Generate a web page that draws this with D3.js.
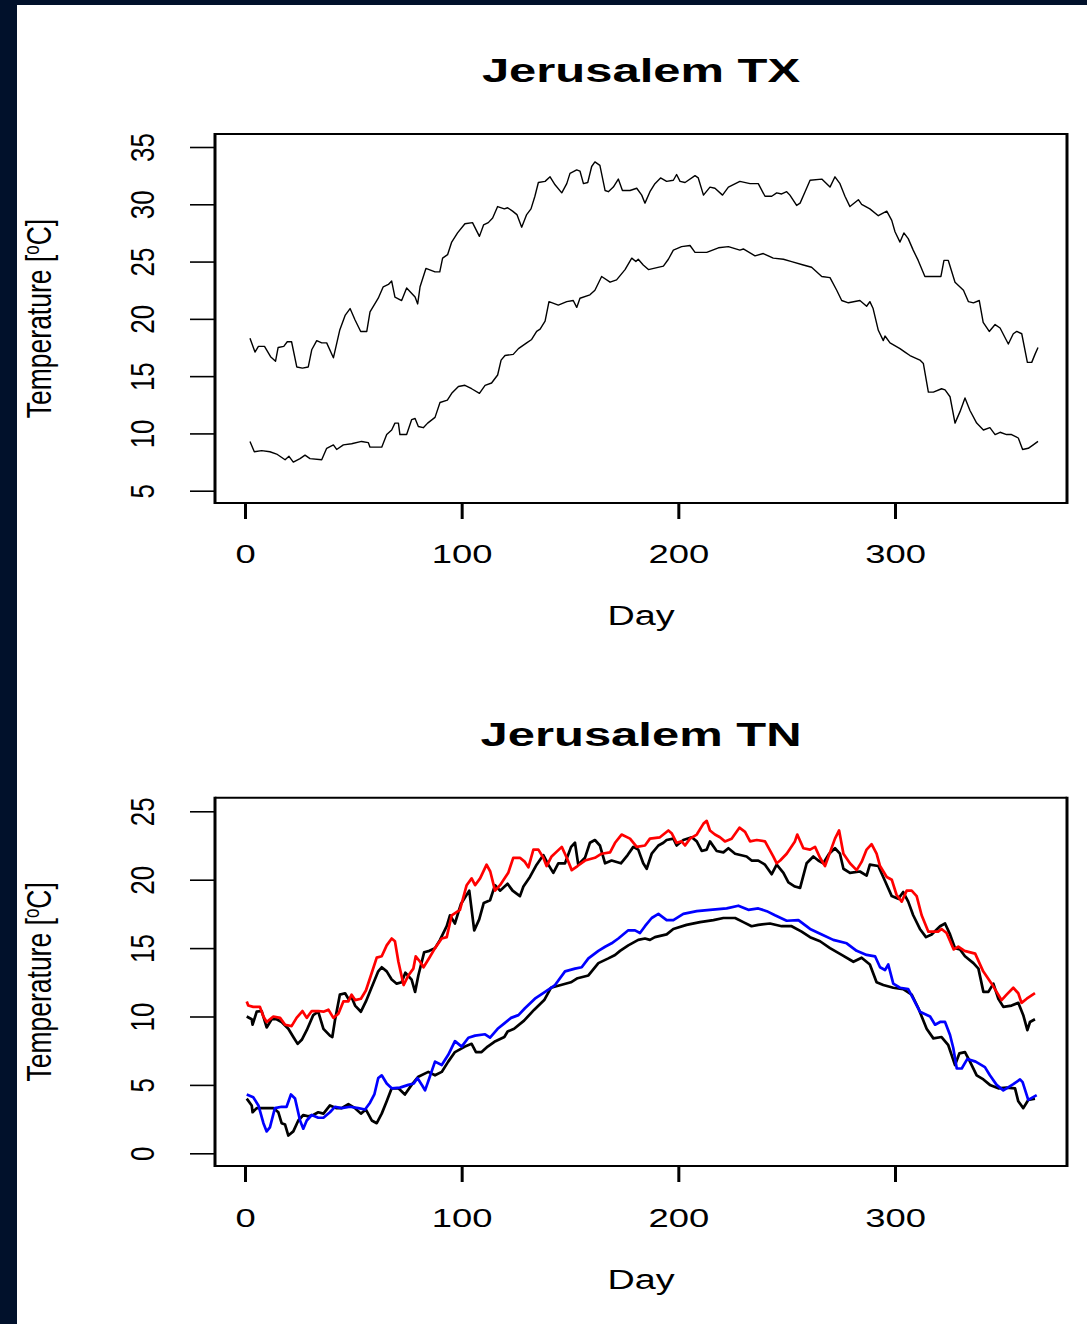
<!DOCTYPE html>
<html>
<head>
<meta charset="utf-8">
<script src="https://cdn.jsdelivr.net/npm/d3@7"></script>
<style>
  html, body { margin: 0; padding: 0; background: #ffffff; }
  svg { display: block; }
</style>
</head>
<body>
<svg id="chart" width="1087" height="1324"></svg>
<script>
// ---- axis ticks ----
const dayTicks = [0, 100, 200, 300];
const txTicks = [5, 10, 15, 20, 25, 30, 35];
const tnTicks = [0, 5, 10, 15, 20, 25];

// ---- Jerusalem TX: two daily curves, [day, °C] ----
const txHigh = [
  [2.3,18.3],[4.6,17.1],[6.2,17.6],[9,17.6],[11.8,16.7],[14.1,16.3],[15.3,17.5],[17.9,17.6],[19.5,18.0],[21.5,18.0],
  [23.9,15.8],[26.5,15.7],[29.2,15.8],[30.8,17.3],[33.1,18.1],[35.4,17.9],[37.7,17.9],[40.8,16.6],[43.7,19.0],[46.2,20.3],
  [48.5,20.9],[50.8,19.9],[53.4,18.9],[56.2,18.9],[57.7,20.6],[61.5,21.8],[63.8,22.8],[66.2,23.0],[67.7,23.3],[69.2,21.9],
  [72.3,21.6],[74.6,22.7],[78.5,21.9],[79.7,21.3],[80.8,22.8],[83.5,24.4],[87.7,24.1],[89.9,24.1],[91.2,25.3],[93.5,25.6],
  [95.4,26.7],[98.1,27.5],[101.5,28.3],[105,28.4],[108.2,27.2],[110.1,28.2],[112.3,28.4],[114.3,28.8],[116.6,29.8],[119.7,29.6],
  [121.2,29.7],[123.5,29.4],[125.5,29.1],[127.7,28.0],[130,29.1],[132,29.6],[133.8,30.7],[135.4,31.9],[138.5,32.0],[140.8,32.4],
  [143.1,31.7],[146.2,31.0],[148.5,31.8],[150,32.7],[153.1,33.0],[154.6,32.9],[156.2,31.8],[158.2,31.9],[160,33.3],[161.5,33.7],
  [163.8,33.4],[166.2,31.2],[167.7,31.1],[170,31.5],[172.3,32.2],[174.2,31.2],[177.7,31.2],[180.8,31.4],[183.1,30.8],[184.6,30.1],
  [186.9,31.1],[189.2,31.8],[191.8,32.3],[194.6,32.0],[197.7,32.1],[199.2,32.6],[200.8,32.0],[203.1,31.9],[207.7,32.5],[209.2,32.3],
  [211.6,30.8],[214.6,31.5],[216.9,31.4],[220.4,30.8],[223.1,31.5],[228.4,32.0],[233.1,31.8],[236.9,31.8],[240,30.7],[243.1,30.7],
  [245.4,31.0],[247.7,30.9],[250,31.1],[251.5,30.8],[254.6,29.9],[256.2,30.1],[258.5,31.1],[260.8,32.1],[266.2,32.2],[270,31.5],
  [272.3,32.4],[274.6,31.8],[276.9,30.7],[279.2,29.8],[283.1,30.4],[284.6,30.0],[288.4,29.6],[292.3,29.0],[296.2,29.4],[298.5,28.6],
  [300,27.6],[302.3,26.7],[304.1,27.5],[306.1,27.0],[308.4,26.0],[310.7,25.1],[313.8,23.7],[317.7,23.7],[321.2,23.7],[322.6,25.1],
  [324.6,25.1],[327.7,23.2],[331.6,22.5],[333.9,21.5],[336.2,21.4],[338.9,21.6],[340.7,19.7],[343.5,18.9],[346.2,19.5],[348.5,19.2],
  [352.3,17.8],[354.6,18.7],[356.2,18.9],[358.5,18.7],[361.1,16.2],[363.1,16.2],[364.6,16.9],[366,17.5]
];
const txLow = [
  [2.3,9.3],[4.3,8.4],[7.7,8.5],[11.5,8.4],[14.6,8.2],[18.5,7.7],[20.3,8.0],[22.3,7.5],[25.4,7.8],[27.7,8.1],
  [30,7.8],[35.4,7.7],[37.7,8.7],[40.8,9.0],[42.3,8.6],[45.4,9.0],[49.2,9.1],[53.8,9.3],[56.9,9.2],[57.7,8.8],
  [63.1,8.8],[65.4,9.9],[67.7,10.3],[69.2,10.9],[70.8,10.9],[71.5,9.9],[74.6,9.9],[76.9,11.2],[78.5,11.3],[80,10.6],
  [82.3,10.5],[84.3,10.9],[87.7,11.4],[90,12.7],[93.4,12.9],[95.4,13.5],[98.5,14.1],[101.5,14.2],[104.6,13.9],[108.2,13.5],
  [110.8,14.2],[113.8,14.4],[116.6,15.1],[118.2,16.4],[120,16.8],[123.8,16.9],[126.2,17.4],[130,17.9],[132.3,18.2],[134.6,18.9],
  [136.2,19.1],[138.5,19.8],[140.3,21.5],[144.6,21.2],[148.5,21.5],[151.5,21.6],[153.1,21.0],[154.6,21.8],[159.2,22.1],[161.5,22.5],
  [164.6,23.7],[168.5,23.2],[171.5,23.4],[175.4,24.3],[178.5,25.3],[180.4,25.0],[181.5,25.2],[183.8,24.7],[186.2,24.3],[193.1,24.6],
  [195.4,25.2],[197.7,26.0],[201.5,26.3],[205.4,26.4],[207.7,25.8],[213.1,25.8],[218.5,26.2],[223.1,26.3],[228.4,26.0],[230,26.1],
  [235.4,25.5],[239.2,25.7],[243.8,25.3],[248.5,25.2],[252.3,25.0],[257.7,24.7],[261.5,24.5],[266.2,23.7],[270,23.6],[273.1,22.5],
  [275.4,21.6],[278.5,21.4],[283.8,21.6],[286.9,21.1],[288.4,21.5],[289.9,20.9],[292.3,19.0],[294.6,18.1],[295.4,18.5],[297.7,17.9],
  [302.3,17.4],[304.6,17.1],[306.9,16.8],[311.5,16.4],[313.1,16.1],[315.4,13.6],[317.7,13.6],[321.5,13.9],[323.1,13.8],[325.4,13.2],
  [327.7,10.9],[330,11.9],[332.3,13.1],[334.6,12.0],[337.7,10.9],[340.8,10.3],[343.8,10.5],[346.2,9.9],[348.5,10.1],[351.5,9.9],
  [353.8,9.9],[356.9,9.6],[358.9,8.6],[361.5,8.7],[363.8,9.0],[366,9.3]
];

// ---- Jerusalem TN: observed (black) and modelled (red / blue), [day, °C] ----
const tnHighObs = [
  [0.8,10.0],[3.1,9.8],[3.5,9.4],[5.4,10.35],[7.7,10.4],[10,9.2],[12.3,9.8],[14.6,9.8],[16.9,9.6],[20,9.1],
  [22.3,8.5],[24.3,8.0],[26.2,8.3],[28.5,9.0],[31.5,10.1],[33.8,10.35],[36.2,9.1],[39.2,8.6],[40.3,8.5],[41.5,9.7],
  [43.8,11.6],[46.2,11.7],[47.7,11.3],[49.2,11.4],[50.8,10.8],[53.5,10.35],[55.8,11.1],[58.1,12.0],[61.5,13.3],[63.1,13.6],
  [65.4,13.3],[67.7,12.7],[70.0,12.4],[72.3,12.5],[74.0,13.2],[76.9,12.7],[78.5,11.8],[80,13.0],[82.7,14.7],[85.1,14.8],
  [87.7,15.0],[90,15.6],[93.1,16.6],[94.6,17.4],[96.9,16.8],[99.6,18.2],[103.5,19.2],[105.8,16.3],[108.1,17.1],[110.2,18.3],
  [113.1,18.5],[115.4,19.6],[117.7,19.2],[121.2,19.7],[123.5,19.2],[126.9,18.8],[128.5,19.5],[131.5,20.2],[134.6,21.1],[137.7,21.8],
  [140,21.1],[142.3,20.5],[144.6,21.2],[147.7,21.2],[150.5,22.4],[152.3,22.7],[153.8,21.1],[156.9,21.6],[159.2,22.7],[161.5,22.9],
  [163.8,22.5],[166.2,21.2],[169.2,21.4],[173.5,21.2],[176.6,21.8],[179.2,22.4],[181.5,22.2],[183.8,21.2],[185.4,20.8],[187.7,21.9],
  [190.8,22.5],[193.1,22.7],[194.6,22.9],[197.7,23.0],[199.2,22.5],[202.3,22.9],[206.2,23.1],[208.5,22.8],[210.8,22.1],[213.1,22.2],
  [214.6,22.8],[217.7,22.1],[220.8,22.0],[223.1,22.3],[226.2,21.9],[231.5,21.7],[233.8,21.4],[236.9,21.4],[240,21.1],[243.1,20.4],
  [245.4,21.1],[248.5,20.5],[250.8,19.8],[253.8,19.5],[256.2,19.4],[259.2,21.2],[262.3,21.7],[264.6,21.4],[266.9,21.2],[269.6,21.9],
  [272.3,22.3],[274.6,21.9],[276.2,20.8],[279.2,20.5],[283.8,20.6],[286.9,20.3],[288.4,21.1],[292.3,21.0],[295.4,19.9],[298.5,18.8],
  [301.5,18.6],[303.8,19.1],[306.1,18.4],[308.4,17.4],[311.5,16.4],[314.3,15.8],[316.9,16.0],[320.8,16.6],[323.1,16.8],[325.4,16.0],
  [327.7,15.0],[330,14.9],[332.3,14.4],[336.2,13.9],[338.5,13.5],[340.8,11.8],[343.1,11.8],[345.4,12.4],[347.7,11.3],[350,10.7],
  [353.8,10.8],[356.9,11.0],[359.2,10.1],[361.1,9.0],[362.3,9.6],[364.6,9.8]
];
const tnHighModel = [
  [0.8,11.1],[1.5,10.8],[3.8,10.7],[6.9,10.7],[8.5,10.0],[10,9.6],[13.1,10.0],[16.2,9.9],[18.5,9.4],[21.5,9.3],
  [23.8,9.9],[26.5,10.4],[28.5,9.9],[30.8,10.4],[33.8,10.4],[36.2,10.35],[38.5,10.5],[40.8,9.9],[43.1,10.2],[45.4,11.1],
  [47.7,11.1],[49.2,11.6],[50.8,11.2],[53.5,11.3],[55.8,11.9],[58.1,13.0],[60.8,14.3],[63.1,14.4],[65.4,15.2],[67.7,15.7],
  [69.2,15.5],[70.8,14.0],[73.2,12.3],[75.4,13.0],[77.7,13.5],[78.8,14.4],[80.8,14.0],[82.4,13.6],[85.1,14.3],[87.7,15.0],
  [90.8,15.7],[93.1,15.8],[95.4,17.4],[99.2,17.8],[102.3,19.6],[104.6,20.1],[106.2,19.6],[108.5,20.1],[111.5,21.1],[113.2,20.6],
  [115.4,19.2],[117.7,19.6],[121.5,20.5],[123.8,21.6],[126.9,21.6],[129.2,21.3],[130.8,20.9],[133.1,22.2],[135.4,22.2],[137.7,21.6],
  [139.2,21.0],[141.5,21.7],[146.2,22.4],[148.5,21.6],[150.8,20.7],[153.5,21.0],[156.9,21.4],[161.5,21.6],[164.6,21.9],[168.5,22.0],
  [170.8,22.7],[173.8,23.3],[177.7,23.0],[180.8,22.4],[184.6,22.5],[186.9,23.0],[191.5,23.1],[195.4,23.6],[196.9,23.4],[199.2,22.7],
  [201.5,22.8],[203.1,22.5],[205.4,23.0],[208.5,23.3],[211.6,24.1],[213.1,24.3],[214.6,23.6],[216.9,23.3],[219.2,23.1],[221.5,22.8],
  [224.6,23.0],[228.2,23.8],[230.8,23.5],[233.1,22.8],[236.2,22.9],[240,22.8],[243.8,21.7],[245.4,21.2],[247,21.4],[250,21.9],
  [253.8,22.8],[254.9,23.3],[257.7,22.3],[260.8,22.2],[263.1,22.4],[265.4,21.6],[267.7,21.0],[270,22.0],[272.3,23.0],[274.2,23.6],
  [276.2,21.9],[279.2,21.2],[282.3,20.7],[284.6,21.3],[286.9,22.2],[289.2,22.6],[291.5,21.9],[293.1,21.0],[296.2,20.2],[298.5,20.0],
  [300.7,18.9],[303.1,18.4],[305.4,19.2],[307.7,19.2],[310,18.8],[312.3,17.4],[315.4,16.2],[319.9,16.2],[321.5,16.4],[323.8,16.1],
  [327.1,14.9],[329.2,15.1],[332.1,14.8],[337.0,14.6],[340.7,13.3],[344.6,12.4],[346.9,11.8],[349.2,11.2],[351.5,11.6],[354.6,12.1],
  [356.9,11.7],[358.4,11.0],[360.8,11.3],[364.6,11.7]
];
const tnLowObs = [
  [0.8,4.0],[3.1,3.5],[3.5,3.0],[5.4,3.3],[8.5,3.3],[13.1,3.3],[15.4,3.0],[16.9,2.2],[18.5,2.1],[20,1.3],
  [22.3,1.6],[24.6,2.4],[26.9,2.8],[29.2,2.7],[31.5,2.8],[33.8,3.0],[36.2,2.9],[39.2,3.5],[42.3,3.3],[44.6,3.3],
  [47.7,3.6],[50.8,3.3],[53.5,2.9],[55.8,3.2],[58.5,2.4],[60.8,2.2],[63.1,2.9],[65.4,3.8],[67.7,4.75],[70.8,4.75],
  [73.8,4.3],[76.9,5.0],[80,5.6],[84.6,5.95],[87.7,5.7],[90.8,5.95],[93.8,6.7],[96.9,7.4],[101.5,7.8],[104.6,8.0],
  [106.6,7.4],[109.2,7.4],[112.0,7.8],[115.1,8.15],[119.7,8.5],[121.2,8.9],[124.2,9.1],[128.8,9.7],[133.5,10.5],[138.1,11.2],
  [141.2,12.1],[145.8,12.3],[150.4,12.5],[153.5,12.8],[158.5,13.0],[163.1,13.9],[167.7,14.25],[170.8,14.5],[173.1,14.8],[176.9,15.2],
  [181.5,15.6],[184.6,15.7],[186.9,15.6],[189.2,15.8],[194.6,16.0],[197.7,16.4],[203.8,16.7],[210,16.9],[216.2,17.05],[220.8,17.2],
  [226.2,17.2],[230,16.9],[233.8,16.6],[236.9,16.7],[242.3,16.8],[247.7,16.6],[252.3,16.6],[256.9,16.2],[260.8,15.8],[265.4,15.5],
  [270,15.0],[275.4,14.5],[280.8,14.0],[284.6,14.3],[288.4,13.8],[291.5,12.5],[294.6,12.3],[299.2,12.1],[303.8,12.0],[307.7,11.6],
  [310.8,10.6],[314.6,9.1],[317.7,8.4],[321.5,8.5],[324.6,7.9],[327.7,6.45],[329.7,7.3],[332.3,7.4],[334.6,6.7],[337.7,5.7],
  [340.8,5.4],[343.8,5.0],[347.7,4.75],[351.5,4.8],[355.4,4.75],[356.9,3.8],[359.2,3.3],[361.5,3.9],[364.6,4.0]
];
const tnLowModel = [
  [0.8,4.3],[3.8,4.1],[6.2,3.5],[8.5,2.2],[10,1.6],[11.5,1.9],[13.8,3.3],[16.9,3.4],[19.2,3.4],[21.2,4.3],
  [23.1,4.0],[25.4,2.4],[26.9,1.8],[28.5,2.4],[30.8,2.8],[33.8,2.6],[36.2,2.6],[39.2,3.0],[41.5,3.4],[44.6,3.3],
  [48.5,3.4],[52.3,3.3],[55.4,3.2],[57.7,3.7],[59.7,4.3],[61.5,5.5],[63.1,5.7],[65.4,5.1],[67.7,4.75],[71.5,4.8],
  [75.4,5.0],[77.9,5.1],[79.6,5.5],[82.0,4.9],[83.1,4.6],[85.1,5.5],[87.7,6.7],[90.8,6.45],[93.8,7.2],[96.9,8.2],
  [100,7.8],[103.1,8.45],[106.2,8.6],[110.8,8.7],[113.1,8.45],[116.6,9.1],[119.7,9.5],[122.8,9.9],[126.2,10.1],[129.2,10.6],
  [133.8,11.3],[138.5,11.8],[143.1,12.3],[147.7,13.3],[152.3,13.5],[155.4,13.6],[158.5,14.25],[163.1,14.8],[166.2,15.1],[169.2,15.35],
  [172.3,15.7],[176.9,16.3],[180,16.3],[182.3,16.1],[184.6,16.6],[187.7,17.2],[190.8,17.5],[194.6,17.05],[197.7,17.05],[202.3,17.5],
  [208.5,17.7],[214.6,17.8],[222.3,17.9],[227.7,18.1],[232.3,17.8],[236.9,17.9],[240.8,17.7],[244.6,17.4],[250,17.0],[255.4,17.05],
  [260.8,16.4],[266.2,16.0],[271.5,15.6],[277.7,15.35],[282.3,14.8],[286.9,14.5],[290.8,14.4],[293.1,13.6],[295.4,13.4],[296.9,13.8],
  [299.2,12.4],[302.3,12.1],[306.1,12.0],[308.4,11.3],[311.5,10.35],[316.2,10.0],[318.5,9.4],[320.8,9.6],[323.1,9.6],[325.4,8.65],
  [326.9,7.7],[328.5,6.2],[330.8,6.2],[333.4,6.9],[337.2,6.7],[341.5,6.3],[343.8,5.7],[346.9,5.0],[350,4.6],[351.5,4.75],
  [354.6,5.05],[357.7,5.4],[358.9,5.2],[361.5,3.9],[365.4,4.25]
];

// ---- drawing ----
const svg = d3.select("#chart");
const FONT = "'Liberation Sans', Arial, Helvetica, sans-serif";

// dark frame along the left and top edges
svg.append("rect").attr("x", 0).attr("y", 0).attr("width", 1087).attr("height", 1324).attr("fill", "#ffffff");
svg.append("rect").attr("x", 0).attr("y", 0).attr("width", 1087).attr("height", 5).attr("fill", "#01112b");
svg.append("rect").attr("x", 0).attr("y", 0).attr("width", 17).attr("height", 1324).attr("fill", "#01112b");

const SX = 1.4;       // horizontal widening of the upright lettering
const SX_TITLE = 1.44;
const SX_ROT = 1.3;   // widening applied to the rotated lettering

function drawPanel(cfg) {
  const left = 215, right = 1067, top = cfg.top, bottom = cfg.bottom;
  const x = d3.scaleLinear().domain([0, 300]).range([245, 895]);
  const y = d3.scaleLinear().domain(cfg.yDomain).range(cfg.yRange);
  const g = svg.append("g");

  // title
  g.append("text")
    .attr("transform", `translate(641,${cfg.titleY}) scale(${SX_TITLE},1)`)
    .attr("text-anchor", "middle")
    .attr("font-family", FONT).attr("font-weight", "bold").attr("font-size", 34)
    .attr("fill", "#000")
    .text(cfg.title);

  // x axis
  const xAxis = g.append("g")
    .attr("transform", `translate(0,${bottom})`)
    .call(d3.axisBottom(x).tickValues(dayTicks).tickSize(16).tickSizeOuter(0));
  xAxis.select(".domain").remove();
  xAxis.selectAll(".tick line").attr("stroke", "#000").attr("stroke-width", 3);
  xAxis.selectAll(".tick text")
    .attr("y", null).attr("dy", null)
    .attr("transform", `translate(0,${cfg.tickLabelY - bottom}) scale(${SX},1)`)
    .attr("font-family", FONT).attr("font-size", 26).attr("fill", "#000")
    .attr("text-anchor", "middle");

  g.append("text")
    .attr("transform", `translate(641,${cfg.dayY}) scale(${SX},1)`)
    .attr("text-anchor", "middle")
    .attr("font-family", FONT).attr("font-size", 27).attr("fill", "#000")
    .text("Day");

  // y axis
  const yAxis = g.append("g")
    .attr("transform", `translate(${left},0)`)
    .call(d3.axisLeft(y).tickValues(cfg.yTicks).tickSize(25).tickSizeOuter(0));
  yAxis.select(".domain").remove();
  yAxis.selectAll(".tick line").attr("stroke", "#000").attr("stroke-width", 1.6);
  yAxis.selectAll(".tick text")
    .attr("x", null).attr("dy", null)
    .attr("transform", `translate(${154 - left},0) scale(${SX_ROT},1) rotate(-90)`)
    .attr("font-family", FONT).attr("font-size", 26).attr("fill", "#000")
    .attr("text-anchor", "middle");

  const yTitle = g.append("text")
    .attr("transform", `translate(51,${(top + bottom) / 2}) scale(${SX_ROT},1) rotate(-90)`)
    .attr("text-anchor", "middle")
    .attr("font-family", FONT).attr("font-size", 26.5).attr("fill", "#000");
  yTitle.append("tspan").text("Temperature [");
  yTitle.append("tspan").attr("font-size", 17).attr("dy", -9).text("o");
  yTitle.append("tspan").attr("dy", 9).text("C]");

  // series
  const line = d3.line().x(d => x(d[0])).y(d => y(d[1]));
  cfg.series.forEach(s => {
    g.append("path")
      .datum(s.data)
      .attr("fill", "none")
      .attr("stroke", s.color)
      .attr("stroke-width", cfg.lineWidth)
      .attr("stroke-linejoin", "round")
      .attr("d", line);
  });

  // frame
  const frame = g.append("g").attr("stroke", "#000");
  frame.append("line").attr("x1", left).attr("x2", right).attr("y1", top).attr("y2", top).attr("stroke-width", 2);
  frame.append("line").attr("x1", left).attr("x2", right).attr("y1", bottom).attr("y2", bottom).attr("stroke-width", 2);
  frame.append("line").attr("x1", left).attr("x2", left).attr("y1", top - 1).attr("y2", bottom + 1).attr("stroke-width", 3);
  frame.append("line").attr("x1", right).attr("x2", right).attr("y1", top - 1).attr("y2", bottom + 1).attr("stroke-width", 3);
}

drawPanel({
  title: "Jerusalem TX",
  titleY: 82,
  top: 134, bottom: 503,
  yDomain: [5, 35], yRange: [490.7, 147],
  yTicks: txTicks,
  tickLabelY: 563, dayY: 625,
  lineWidth: 1.4,
  series: [
    { data: txHigh, color: "#000000" },
    { data: txLow, color: "#000000" }
  ]
});

drawPanel({
  title: "Jerusalem TN",
  titleY: 745.5,
  top: 797.7, bottom: 1166,
  yDomain: [0, 25], yRange: [1153.3, 811.3],
  yTicks: tnTicks,
  tickLabelY: 1226.7, dayY: 1289,
  lineWidth: 2.7,
  series: [
    { data: tnHighObs, color: "#000000" },
    { data: tnHighModel, color: "#ff0000" },
    { data: tnLowObs, color: "#000000" },
    { data: tnLowModel, color: "#0000ff" }
  ]
});
</script>
</body>
</html>
